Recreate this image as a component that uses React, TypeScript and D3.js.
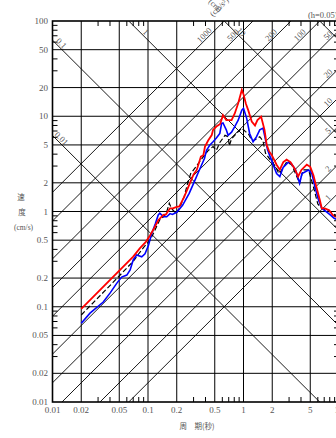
import React from "react";
import * as d3 from "d3";

const W = 336;
const H = 438;

const periodTicks = [0.01, 0.02, 0.05, 0.1, 0.2, 0.5, 1, 2, 5, 10];
const periodLabels = ["0.01", "0.02", "0.05", "0.1", "0.2", "0.5", "1", "2", "5", "10"];
const velTicks = [0.01, 0.02, 0.05, 0.1, 0.2, 0.5, 1, 2, 5, 10, 20, 50, 100];
const velLabels = ["0.01", "0.02", "0.05", "0.1", "0.2", "0.5", "1", "2", "5", "10", "20", "50", "100"];
const minorMantissas = [3, 4, 6, 7, 8, 9];
const accLines = [1, 2, 5, 10, 20, 50, 100, 200, 500, 1000];
const accTopLabels = [1000, 500, 200, 100];
const accRightLabels = [50, 20, 10, 5, 2, 1];
const dispLines = [0.01, 0.1, 1, 10, 100];
const dispLeftLabels = [0.1, 0.01];
const dispTopLabels = [1, 10];

// [period (s), velocity (cm/s)]
const redSeries: [number, number][] = [
  [0.02, 0.095], [0.07, 0.336], [0.082, 0.41], [0.095, 0.48], [0.105, 0.56], [0.117, 0.68],
  [0.128, 0.81], [0.145, 0.92], [0.154, 0.93], [0.17, 1.08], [0.182, 1.08], [0.2, 1.12],
  [0.213, 1.13], [0.24, 1.43], [0.27, 1.9], [0.3, 2.45], [0.324, 2.73], [0.358, 3.77],
  [0.38, 3.9], [0.395, 4.8], [0.428, 5.6], [0.465, 6.35], [0.48, 7.2], [0.52, 7.8],
  [0.57, 8.3], [0.61, 10.3], [0.66, 9.1], [0.75, 9.1], [0.81, 10.7], [0.88, 13.7],
  [0.96, 18.9], [1.0, 17], [1.06, 13.5], [1.12, 11.6], [1.22, 8.8], [1.32, 8.0],
  [1.4, 9.1], [1.53, 9.9], [1.66, 7.2], [1.75, 5.0], [1.85, 4.3], [1.98, 3.9],
  [2.22, 3.1], [2.4, 2.75], [2.61, 3.3], [2.83, 3.5], [3.1, 3.3], [3.45, 2.8],
  [3.73, 2.33], [4.04, 2.73], [4.6, 3.1], [5.0, 2.95], [5.4, 2.4], [5.8, 1.81],
  [6.3, 1.32], [6.6, 1.08], [7.1, 1.08], [7.9, 1.03], [8.6, 0.92], [10, 0.85],
];

const blueSeries: [number, number][] = [
  [0.02, 0.067], [0.0247, 0.0857], [0.034, 0.112], [0.04, 0.139], [0.047, 0.176],
  [0.053, 0.205], [0.06, 0.215], [0.065, 0.243], [0.07, 0.31], [0.076, 0.35],
  [0.086, 0.335], [0.093, 0.36], [0.101, 0.44], [0.109, 0.58], [0.119, 0.74],
  [0.128, 0.92], [0.133, 0.96], [0.145, 0.88], [0.157, 0.88], [0.17, 0.95], [0.18, 0.93],
  [0.2, 0.98], [0.23, 1.16], [0.27, 1.55], [0.305, 2.05], [0.345, 2.73], [0.39, 3.6],
  [0.41, 4.4], [0.445, 5.0], [0.48, 5.4], [0.52, 5.9], [0.565, 6.6], [0.59, 8.4],
  [0.61, 8.5], [0.66, 7.2], [0.69, 6.3], [0.75, 6.8], [0.81, 7.8], [0.88, 9.1],
  [0.96, 11.6], [1.0, 12.1], [1.08, 9.5], [1.16, 6.6], [1.26, 5.4], [1.37, 6.1],
  [1.48, 7.2], [1.6, 7.5], [1.68, 6.0], [1.78, 4.5], [1.9, 3.77], [2.22, 2.5],
  [2.4, 2.33], [2.6, 2.9], [2.95, 3.3], [3.15, 3.2], [3.5, 2.75], [3.87, 1.98],
  [4.1, 2.5], [4.8, 2.73], [5.2, 2.5], [5.6, 1.81], [6.1, 1.32], [6.6, 1.08],
  [7.3, 1.0], [8.1, 0.92], [8.9, 0.85], [10, 0.8],
];

const blackSeries: [number, number][] = [
  [0.02, 0.082], [0.043, 0.18], [0.07, 0.3], [0.08, 0.36], [0.09, 0.42], [0.105, 0.5],
  [0.115, 0.6], [0.125, 0.72], [0.133, 0.82], [0.145, 0.88], [0.155, 0.95], [0.167, 1.22],
  [0.175, 1.1], [0.183, 1.03], [0.197, 0.95], [0.22, 1.16], [0.24, 1.45], [0.26, 1.98],
  [0.28, 2.5], [0.318, 2.95], [0.36, 3.5], [0.39, 3.9], [0.43, 4.4], [0.48, 4.8],
  [0.52, 4.4], [0.565, 5.3], [0.64, 6.3], [0.69, 6.1], [0.71, 4.9], [0.75, 5.8],
  [0.81, 6.3], [0.88, 6.9], [0.96, 7.5], [1.05, 6.9], [1.13, 6.5], [1.22, 5.6],
  [1.3, 5.6], [1.48, 6.1], [1.6, 5.5], [1.7, 4.1], [1.9, 3.5], [2.15, 3.0],
  [2.35, 2.5], [2.5, 2.7], [2.83, 3.3], [3.2, 3.1], [3.87, 1.98], [4.2, 2.73],
  [4.8, 2.73], [5.4, 1.81], [6.0, 1.2], [6.6, 1.08], [7.5, 1.03], [8.6, 0.95], [10, 0.88],
];

const SERIF = "'Liberation Serif', 'DejaVu Serif', serif";
const CJK = "'Noto Sans CJK JP', 'Noto Sans CJK SC', sans-serif";
const TXT = "#555";

export default function App() {
  const x = d3.scaleLog().domain([0.01, 10]).range([52.5, 339]);
  const y = d3.scaleLog().domain([0.01, 100]).range([402, 21]);
  const [x0, x1] = x.range();
  const [y1, y0] = y.range();
  const TWO_PI = 2 * Math.PI;

  const line = d3
    .line<[number, number]>()
    .x((d) => x(d[0]))
    .y((d) => y(d[1]));

  const minorT: number[] = [];
  [-2, -1, 0].forEach((k) => minorMantissas.forEach((m) => minorT.push(m * Math.pow(10, k))));
  const minorV: number[] = [];
  [-2, -1, 0, 1].forEach((k) => minorMantissas.forEach((m) => minorV.push(m * Math.pow(10, k))));

  // acceleration lines: Sv = A*T/(2π); displacement lines: Sv = 2πD/T
  const accPath = (A: number) =>
    line([
      [0.001, (A * 0.001) / TWO_PI],
      [100, (A * 100) / TWO_PI],
    ]);
  const dispPath = (D: number) =>
    line([
      [0.001, (TWO_PI * D) / 0.001],
      [100, (TWO_PI * D) / 100],
    ]);

  const accAtY = (A: number, py: number) => x((TWO_PI * y.invert(py)) / A);
  const accAtX = (A: number, px: number) => y((A * x.invert(px)) / TWO_PI);
  const dispAtY = (D: number, py: number) => x((TWO_PI * D) / y.invert(py));
  const dispAtX = (D: number, px: number) => y((TWO_PI * D) / x.invert(px));

  const accLabelPos: { v: number; px: number; py: number }[] = [];
  accTopLabels.forEach((A) => accLabelPos.push({ v: A, px: accAtY(A, 38) - 3, py: 35 }));
  accRightLabels.forEach((A) => accLabelPos.push({ v: A, px: 328, py: accAtX(A, 331) - 3 }));
  const dispLabelPos: { v: number; px: number; py: number }[] = [];
  dispLeftLabels.forEach((D) => dispLabelPos.push({ v: D, px: 61.5, py: dispAtX(D, 58.5) - 3 }));
  dispTopLabels.forEach((D) => dispLabelPos.push({ v: D, px: dispAtY(D, 35) + 3, py: 32 }));

  return (
    <svg
      width={W}
      height={H}
      style={{ position: "absolute", left: 0, top: 0, background: "#fff" }}
    >
      <defs>
        <clipPath id="plot">
          <rect x={x0} y={y0} width={x1 - x0} height={y1 - y0} />
        </clipPath>
      </defs>
      <rect x={0} y={0} width={W} height={H} fill="#fff" />

      <g clipPath="url(#plot)">
        {periodTicks.slice(1, -1).map((t) => (
          <line key={"vg" + t} x1={x(t)} x2={x(t)} y1={y0} y2={y1} stroke="#000" strokeWidth={1} />
        ))}
        {velTicks.slice(1, -1).map((v) => (
          <line key={"hg" + v} x1={x0} x2={x1} y1={y(v)} y2={y(v)} stroke="#000" strokeWidth={1} />
        ))}
        {accLines.map((A) => (
          <path key={"a" + A} d={accPath(A) || ""} stroke="#000" strokeWidth={0.9} fill="none" />
        ))}
        {dispLines.map((D) => (
          <path key={"d" + D} d={dispPath(D) || ""} stroke="#000" strokeWidth={0.9} fill="none" />
        ))}

        <path d={line(blackSeries) || ""} fill="none" stroke="#000" strokeWidth={1.2} strokeDasharray="5,2.5" />
        <path d={line(blueSeries) || ""} fill="none" stroke="#0000ff" strokeWidth={1.6} />
        <path d={line(redSeries) || ""} fill="none" stroke="#ff0000" strokeWidth={1.8} />
      </g>

      {minorT.map((t) => (
        <g key={"mt" + t}>
          <line x1={x(t)} x2={x(t)} y1={y1} y2={y1 - 5} stroke="#000" strokeWidth={1} />
          <line x1={x(t)} x2={x(t)} y1={y0} y2={y0 + 5} stroke="#000" strokeWidth={1} />
        </g>
      ))}
      {minorV.map((v) => (
        <g key={"mv" + v}>
          <line x1={x0} x2={x0 + 5} y1={y(v)} y2={y(v)} stroke="#000" strokeWidth={1} />
          <line x1={x1} x2={x1 - 5} y1={y(v)} y2={y(v)} stroke="#000" strokeWidth={1} />
        </g>
      ))}

      <rect x={x0} y={y0} width={x1 - x0} height={y1 - y0} fill="none" stroke="#000" strokeWidth={1.6} />

      {accLabelPos.map((l) => (
        <text
          key={"al" + l.v}
          transform={`translate(${l.px},${l.py}) rotate(-45)`}
          textAnchor="middle"
          dominantBaseline="central"
          fontFamily={SERIF}
          fontSize={8.5}
          fill={TXT}
        >
          {String(l.v)}
        </text>
      ))}
      {dispLabelPos.map((l) => (
        <text
          key={"dl" + l.v}
          transform={`translate(${l.px},${l.py}) rotate(45)`}
          textAnchor="middle"
          dominantBaseline="central"
          fontFamily={SERIF}
          fontSize={8.5}
          fill={TXT}
        >
          {String(l.v)}
        </text>
      ))}

      <text transform="translate(208,2) rotate(45)" fontFamily={SERIF} fontSize={8} fill={TXT}>
        (cm)
      </text>
      <text transform="translate(213,17) rotate(-45)" fontFamily={SERIF} fontSize={8} fill={TXT}>
        (cm/s²)
      </text>
      <text x={308} y={18} fontFamily={SERIF} fontSize={8.5} fill={TXT}>
        (h=0.05)
      </text>

      {velTicks.map((v, i) => (
        <text key={"yl" + v} x={48} y={y(v) + 3} textAnchor="end" fontFamily={SERIF} fontSize={9} fill={TXT}>
          {velLabels[i]}
        </text>
      ))}
      {periodTicks.map((t, i) => (
        <text key={"xl" + t} x={x(t)} y={413} textAnchor="middle" fontFamily={SERIF} fontSize={9} fill={TXT}>
          {periodLabels[i]}
        </text>
      ))}

      <text x={21} y={200} textAnchor="middle" fontFamily={CJK} fontSize={7.5} fill={TXT}>
        速
      </text>
      <text x={22} y={215} textAnchor="middle" fontFamily={CJK} fontSize={7.5} fill={TXT}>
        度
      </text>
      <text x={23.5} y={230} textAnchor="middle" fontFamily={SERIF} fontSize={7.5} fill={TXT}>
        (cm/s)
      </text>
      <text x={197} y={429} textAnchor="middle" fontFamily={CJK} fontSize={7.5} fill={TXT}>
        周　期(秒)
      </text>
    </svg>
  );
}
